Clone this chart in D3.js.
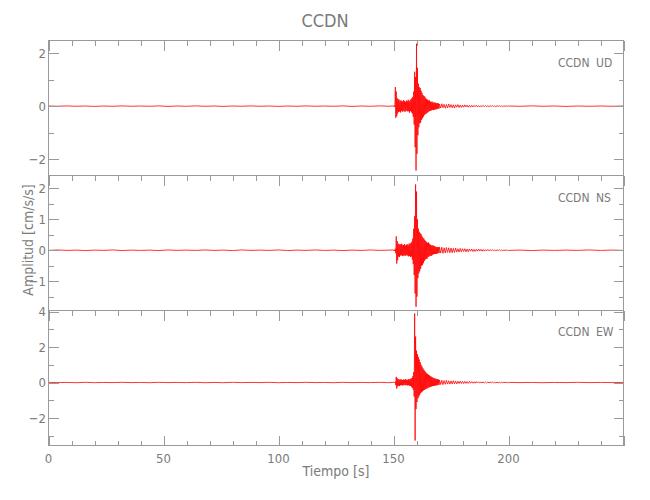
<!DOCTYPE html>
<html><head><meta charset="utf-8">
<script src="https://cdn.jsdelivr.net/npm/d3@7"></script>
<style>
body{margin:0;background:#fff;}
text{font-family:"DejaVu Sans Condensed","Liberation Sans Narrow","DejaVu Sans",sans-serif;font-stretch:condensed;fill:#7a7a7a;}
</style></head>
<body><svg id="c" width="650" height="500"></svg>
<script>
// ---- data (cm/s/s) ----
const station = "CCDN";
const components = ["UD","NS","EW"];
const xTicks = [0,50,100,150,200];
const yTicksUD = [-2,0,2];
const yTicksNS = [-1,0,1,2];
const yTicksEW = [-2,0,2,4];
// sampling segments: [start, step]
const preSeg = [0,4], evSeg = [150,0.2], codaSeg = [170,0.5], postSeg = [200,5];

const udPre = [0.005,-0.005,0.01,-0.005,0.005,-0.01,0.005,-0.005,0.01,-0.005,0.005,-0.005,0.01,-0.01,0.005,-0.005,0.01,-0.005,0.005,-0.01,0.005,-0.005,0.01,-0.005,0.005,-0.01,0.005,-0.005,0.01,-0.005,0.005,-0.005,0.01,-0.01,0.005,-0.005,0.01,-0.005];
const udEvent = [0.01,-0.02,0.02,-0.03,0.72,-0.44,0.55,-0.38,0.30,-0.28,
0.26,-0.22,0.25,-0.20,0.18,-0.24,0.22,-0.18,0.20,-0.21,
0.17,-0.19,0.23,-0.16,0.19,-0.22,0.16,-0.18,0.21,-0.17,
0.18,-0.20,0.24,-0.19,0.17,-0.25,0.22,-0.18,0.26,-0.23,
0.30,-0.28,0.35,-0.40,0.55,-0.70,1.30,-1.55,1.10,-2.43,
2.36,-1.80,1.45,-1.10,0.85,-0.80,0.72,-0.65,0.68,-0.62,
0.58,-0.52,0.50,-0.46,0.42,-0.40,0.38,-0.34,0.36,-0.30,
0.30,-0.29,0.27,-0.25,0.24,-0.23,0.21,-0.20,0.22,-0.18,
0.17,-0.18,0.16,-0.15,0.17,-0.14,0.14,-0.15,0.13,-0.13,
0.14,-0.12,0.12,-0.12,0.11,-0.10,0.11,-0.10,0.10,-0.09];
const udCoda = [0.08,-0.07,0.09,-0.06,0.07,-0.08,0.06,-0.07,0.08,-0.05,
0.06,-0.06,0.05,-0.07,0.05,-0.04,0.06,-0.05,0.04,-0.05,
0.04,-0.04,0.05,-0.03,0.04,-0.04,0.03,-0.04,0.03,-0.03,
0.03,-0.02,0.03,-0.03,0.02,-0.03,0.02,-0.02,0.03,-0.02,
0.02,-0.02,0.015,-0.02,0.02,-0.015,0.02,-0.015,0.015,-0.02,
0.015,-0.01,0.02,-0.015,0.01,-0.015,0.01,-0.01,0.015,-0.01];
const udPost = [0.005,-0.005,0.01,-0.005,0.005,-0.01,0.005,-0.005,0.005,-0.005,0.005];

const nsPre = [-0.005,0.01,-0.005,0.005,-0.01,0.005,-0.005,0.01,-0.01,0.005,-0.005,0.005,-0.01,0.01,-0.005,0.005,-0.005,0.01,-0.005,0.005,-0.01,0.01,-0.005,0.005,-0.005,0.01,-0.01,0.005,-0.005,0.01,-0.005,0.005,-0.01,0.005,-0.005,0.01,-0.005,0.005];
const nsEvent = [0.01,-0.02,0.01,-0.02,0.05,-0.10,0.45,-0.43,0.30,-0.32,
0.22,-0.20,0.18,-0.22,0.20,-0.17,0.19,-0.16,0.21,-0.18,
0.16,-0.19,0.17,-0.15,0.20,-0.18,0.15,-0.17,0.18,-0.16,
0.19,-0.17,0.16,-0.20,0.22,-0.18,0.20,-0.22,0.24,-0.20,
0.28,-0.30,0.38,-0.45,0.70,-0.80,1.10,-1.40,2.13,-1.83,
1.90,-1.50,1.00,-0.90,0.70,-0.75,0.60,-0.68,0.55,-0.60,
0.52,-0.50,0.45,-0.48,0.40,-0.42,0.38,-0.35,0.33,-0.30,
0.30,-0.28,0.26,-0.27,0.24,-0.22,0.25,-0.20,0.21,-0.19,
0.18,-0.17,0.16,-0.18,0.15,-0.14,0.16,-0.13,0.14,-0.12,
0.13,-0.12,0.11,-0.12,0.10,-0.11,0.10,-0.09,0.10,-0.09];
const nsCoda = [0.10,-0.09,0.10,-0.10,0.08,-0.09,0.09,-0.07,0.08,-0.08,
0.07,-0.08,0.06,-0.07,0.07,-0.06,0.05,-0.06,0.06,-0.05,
0.05,-0.04,0.05,-0.05,0.04,-0.05,0.04,-0.03,0.04,-0.04,
0.03,-0.04,0.03,-0.03,0.04,-0.025,0.03,-0.03,0.025,-0.03,
0.02,-0.02,0.025,-0.02,0.02,-0.015,0.02,-0.02,0.015,-0.02,
0.015,-0.01,0.02,-0.015,0.01,-0.015,0.01,-0.01,0.015,-0.01];
const nsPost = [-0.005,0.005,-0.01,0.005,-0.005,0.005,-0.005,0.01,-0.005,0.005,-0.005];

const ewPre = [0.01,-0.005,0.005,-0.01,0.01,-0.01,0.005,-0.005,0.01,-0.005,0.005,-0.01,0.01,-0.005,0.005,-0.005,0.01,-0.01,0.005,-0.01,0.01,-0.005,0.005,-0.005,0.01,-0.01,0.005,-0.005,0.01,-0.005,0.005,-0.01,0.01,-0.005,0.005,-0.005,0.01,-0.01];
const ewEvent = [0.01,-0.01,0.02,-0.01,0.05,-0.15,0.32,-0.34,0.25,-0.22,
0.20,-0.18,0.17,-0.20,0.15,-0.16,0.18,-0.14,0.16,-0.17,
0.14,-0.15,0.17,-0.13,0.15,-0.16,0.18,-0.14,0.16,-0.15,
0.13,-0.17,0.19,-0.15,0.17,-0.18,0.20,-0.19,0.22,-0.24,
0.25,-0.30,0.35,-0.40,0.60,-0.80,3.90,-3.28,2.60,-1.50,
1.80,-1.10,1.60,-0.90,1.45,-0.80,1.30,-0.70,1.15,-0.60,
1.00,-0.55,0.90,-0.50,0.80,-0.45,0.72,-0.42,0.65,-0.38,
0.58,-0.36,0.52,-0.33,0.48,-0.30,0.44,-0.28,0.40,-0.26,
0.36,-0.24,0.33,-0.22,0.30,-0.20,0.27,-0.19,0.25,-0.18,
0.23,-0.17,0.21,-0.16,0.19,-0.15,0.18,-0.14,0.17,-0.13];
const ewCoda = [0.14,-0.11,0.13,-0.12,0.11,-0.10,0.12,-0.09,0.10,-0.09,
0.09,-0.08,0.10,-0.07,0.08,-0.08,0.07,-0.06,0.08,-0.06,
0.06,-0.06,0.07,-0.05,0.05,-0.05,0.06,-0.04,0.05,-0.04,
0.04,-0.04,0.05,-0.03,0.04,-0.03,0.03,-0.03,0.04,-0.03,
0.03,-0.025,0.03,-0.02,0.025,-0.02,0.03,-0.02,0.02,-0.02,
0.02,-0.015,0.02,-0.02,0.015,-0.015,0.02,-0.01,0.015,-0.01];
const ewPost = [0.005,-0.005,0.005,-0.01,0.005,-0.005,0.01,-0.005,0.005,-0.005,0.005];

// ---- layout ----
const L = 48.5, R = 623.5;
const panels = [
  {comp:"UD", top:40.5, bot:175.5, dom:[-2.62,2.48], ticks:yTicksUD, minor:1,
   segs:[udPre,udEvent,udCoda,udPost], labY:67},
  {comp:"NS", top:175.5, bot:310.5, dom:[-1.95,2.42], ticks:yTicksNS, minor:0.5,
   segs:[nsPre,nsEvent,nsCoda,nsPost], labY:202},
  {comp:"EW", top:310.5, bot:445.5, dom:[-3.56,4.07], ticks:yTicksEW, minor:1,
   segs:[ewPre,ewEvent,ewCoda,ewPost], labY:336}
];
const segDefs = [preSeg, evSeg, codaSeg, postSeg];

const svg = d3.select("#c");
const x = d3.scaleLinear().domain([0,250]).range([L,R]);
const axisColor = "#9a9a9a";

svg.append("text").attr("x",325).attr("y",27).attr("text-anchor","middle")
  .style("font-size","18px").text(station);

panels.forEach((p,i)=>{
  const y = d3.scaleLinear().domain(p.dom).range([p.bot,p.top]);
  const g = svg.append("g");
  const clipId = "clip"+i;
  svg.append("clipPath").attr("id",clipId).append("rect")
    .attr("x",L).attr("y",p.top).attr("width",R-L).attr("height",p.bot-p.top);

  // samples
  const pts = [];
  p.segs.forEach((arr,k)=>{
    const [t0,dt] = segDefs[k];
    arr.forEach((v,j)=>pts.push([t0+j*dt, v]));
  });
  const line = d3.line().x(d=>x(d[0])).y(d=>y(d[1]));
  g.append("path").datum(pts).attr("d",line).attr("clip-path","url(#"+clipId+")")
    .attr("fill","none").attr("stroke","#ff0000").attr("stroke-width",0.8)
    .attr("stroke-linejoin","round");

  // frame
  g.append("rect").attr("x",L).attr("y",p.top).attr("width",R-L).attr("height",p.bot-p.top)
    .attr("fill","none").attr("stroke",axisColor).attr("shape-rendering","crispEdges");

  // left & right y axes (ticks inward)
  const yMajor = p.ticks;
  const yMinor = d3.range(Math.ceil(p.dom[0]/p.minor)*p.minor, p.dom[1]+1e-9, p.minor)
     .filter(v=>!yMajor.some(m=>Math.abs(m-v)<1e-6));
  const left = d3.axisRight(y).tickValues(yMajor).tickSize(10).tickFormat("");
  const leftMin = d3.axisRight(y).tickValues(yMinor).tickSize(5).tickFormat("");
  const right = d3.axisLeft(y).tickValues(yMajor).tickSize(10).tickFormat("");
  const rightMin = d3.axisLeft(y).tickValues(yMinor).tickSize(5).tickFormat("");
  [[left,L],[leftMin,L],[right,R],[rightMin,R]].forEach(([ax,pos])=>{
    const a = g.append("g").attr("transform",`translate(${pos},0)`).call(ax);
    a.select(".domain").remove();
    a.selectAll("line").attr("stroke",axisColor).attr("shape-rendering","crispEdges");
  });
  // y labels
  yMajor.forEach(v=>{
    g.append("text").attr("x",L-2.5).attr("y",y(v)).attr("dy","0.36em")
      .attr("text-anchor","end").style("font-size","13px")
      .text(v<0 ? "\u2212"+Math.abs(v) : String(v));
  });

  // top x ticks (pointing down)
  const xMinor = d3.range(0,251,10).filter(v=>v%50!==0);
  const topMaj = d3.axisBottom(x).tickValues(d3.range(0,251,50)).tickSize(10).tickFormat("");
  const topMin = d3.axisBottom(x).tickValues(xMinor).tickSize(5).tickFormat("");
  [topMaj,topMin].forEach(ax=>{
    const a = g.append("g").attr("transform",`translate(0,${p.top})`).call(ax);
    a.select(".domain").remove();
    a.selectAll("line").attr("stroke",axisColor).attr("shape-rendering","crispEdges");
  });
  if(i===panels.length-1){
    const botMaj = d3.axisTop(x).tickValues(d3.range(0,251,50)).tickSize(10).tickFormat("");
    const botMin = d3.axisTop(x).tickValues(xMinor).tickSize(5).tickFormat("");
    [botMaj,botMin].forEach(ax=>{
      const a = g.append("g").attr("transform",`translate(0,${p.bot})`).call(ax);
      a.select(".domain").remove();
      a.selectAll("line").attr("stroke",axisColor).attr("shape-rendering","crispEdges");
    });
    xTicks.forEach(v=>{
      g.append("text").attr("x",x(v)).attr("y",p.bot+13).attr("dy","0.36em")
        .attr("text-anchor","middle").style("font-size","13px").text(String(v));
    });
  }

  // component label
  g.append("text").attr("x",558).attr("y",p.labY).style("font-size","12px").text(station);
  g.append("text").attr("x",596).attr("y",p.labY).style("font-size","12px").text(p.comp);
});

svg.append("text").attr("x",336).attr("y",476).attr("text-anchor","middle")
  .style("font-size","14px").text("Tiempo [s]");
svg.append("text").attr("transform","translate(33,240) rotate(-90)")
  .attr("text-anchor","middle").style("font-size","14px").text("Amplitud [cm/s/s]");
</script></body></html>
